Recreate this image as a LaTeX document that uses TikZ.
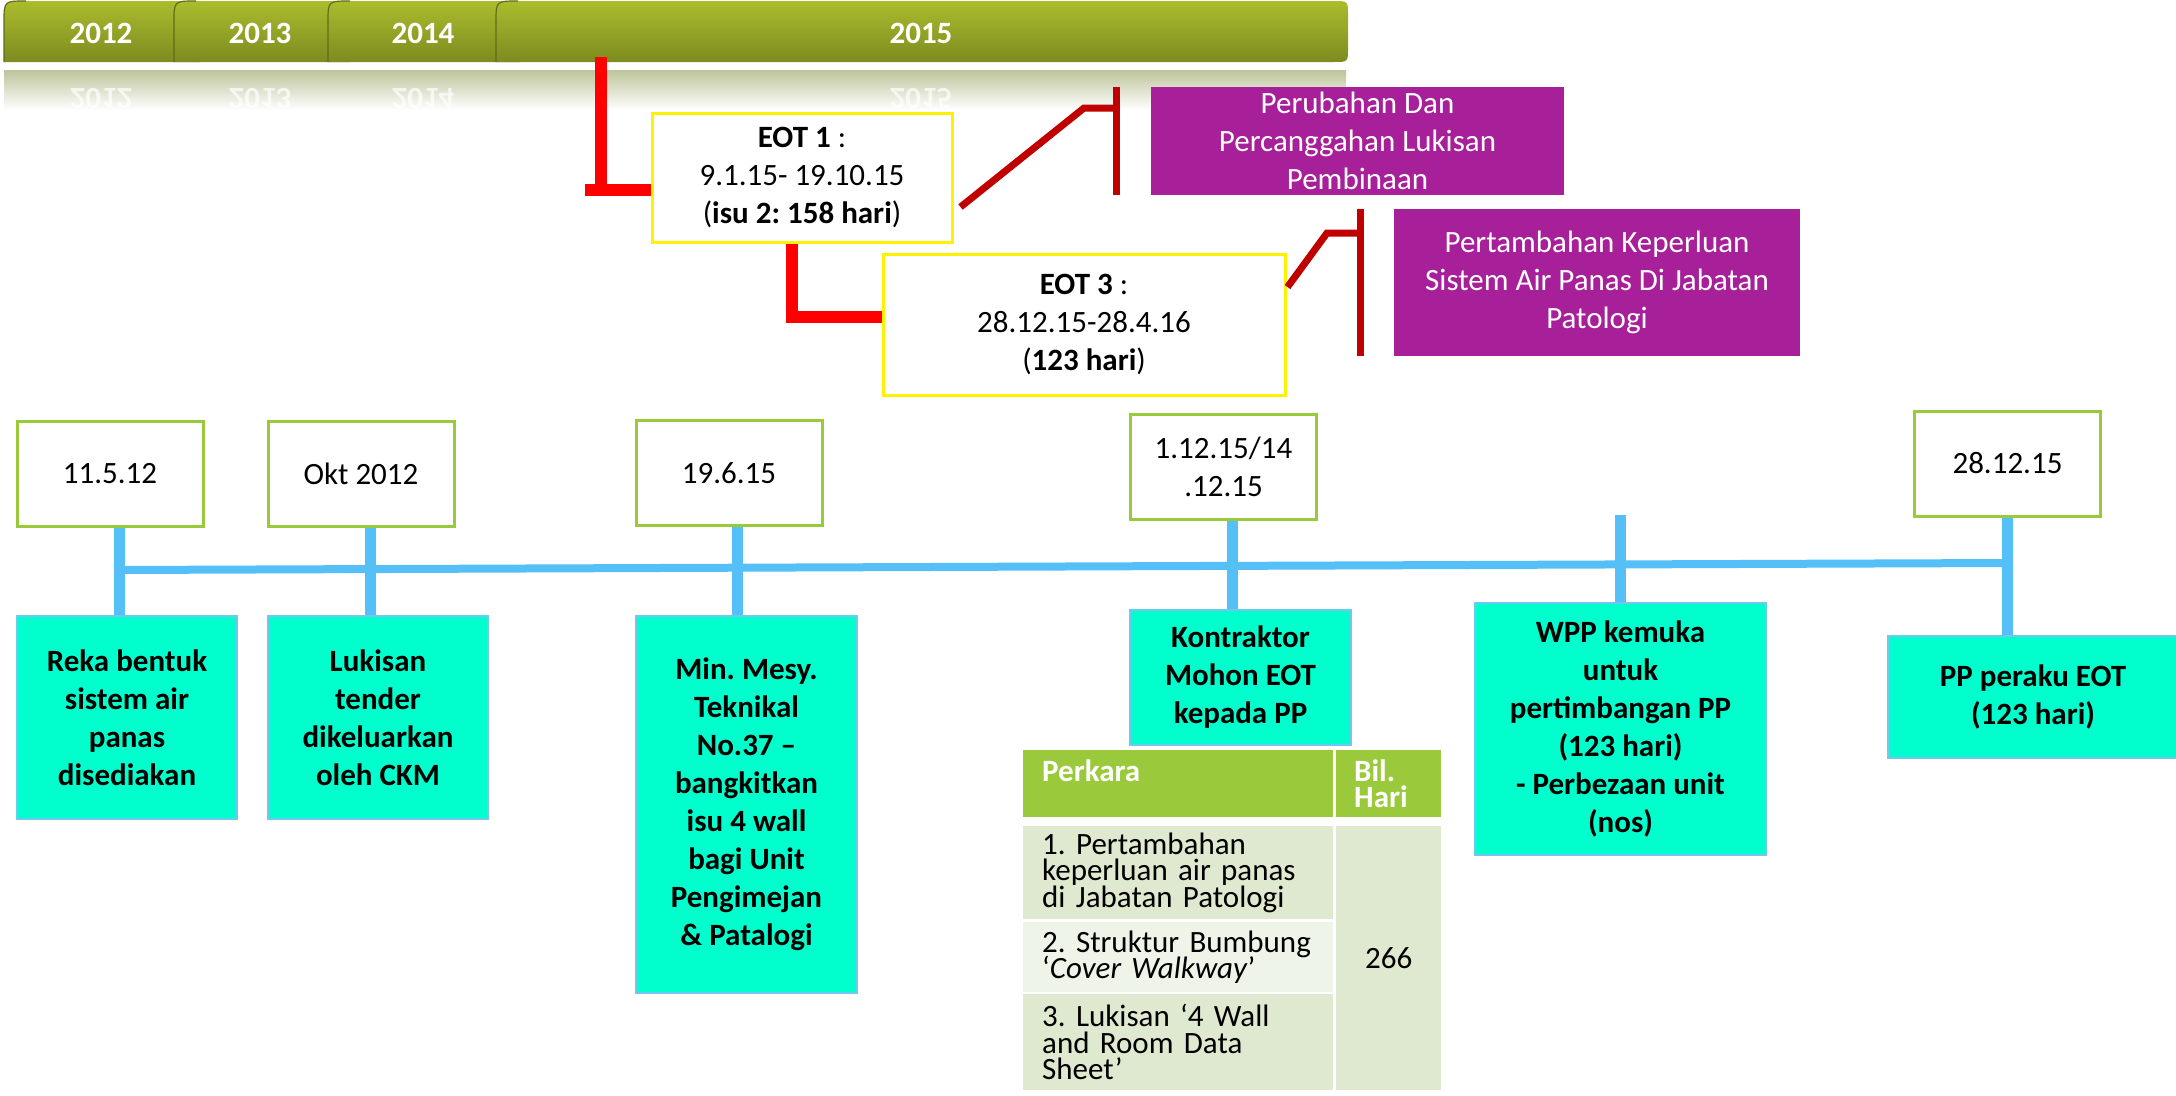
\documentclass[tikz,border=0pt]{standalone}
\usepackage{fontspec}
\setmainfont{Carlito}
\usetikzlibrary{calc}

\definecolor{tabtop}{RGB}{171,188,45}
\definecolor{tabbot}{RGB}{125,139,32}
\definecolor{tabedge}{RGB}{96,108,24}
\definecolor{reflgrey}{RGB}{190,196,156}
\definecolor{dategreen}{RGB}{154,202,60}
\definecolor{aqua}{RGB}{0,255,204}
\definecolor{aquaedge}{RGB}{110,200,240}
\definecolor{busblue}{RGB}{85,192,247}
\definecolor{eotred}{RGB}{255,0,0}
\definecolor{darkred}{RGB}{192,0,0}
\definecolor{plum}{RGB}{167,32,153}
\definecolor{tabhead}{RGB}{154,202,60}
\definecolor{rowdark}{RGB}{222,233,207}
\definecolor{rowlight}{RGB}{239,244,233}

\newcommand{\txtsize}{\fontsize{31}{38}\selectfont}
\newcommand{\tblsize}{\fontsize{31}{26.5}\selectfont\lineskiplimit=-50pt\hyphenpenalty=10000}

\begin{document}
\frenchspacing
\begin{tikzpicture}
    [x=1pt,y=-1pt,
     tabtxt/.style={text=white,font=\txtsize\bfseries},
     refltxt/.style={text=white,opacity=0.7,font=\txtsize\bfseries},
     datebox/.style={draw=dategreen,line width=3pt,fill=white,minimum width=186pt,minimum height=105pt,inner sep=0pt,align=center,font=\txtsize},
     tealbox/.style={draw=aquaedge,line width=1.5pt,fill=aqua,inner sep=0pt,align=center,font=\txtsize\bfseries},
     eotbox/.style={draw=yellow,line width=3pt,fill=white,inner sep=0pt,align=center,font=\txtsize},
     notebox/.style={fill=plum,text=white,inner sep=0pt,align=center,font=\txtsize},
     cell/.style={anchor=north west,inner xsep=19pt,inner ysep=0pt,align=left,font=\tblsize},
     busline/.style={draw=busblue,line width=11pt},
     redline/.style={draw=eotred,line width=12pt},
     darkline/.style={draw=darkred,line width=7pt}]
    \useasboundingbox (0,0) rectangle (2176,1095);

    \shade [top color=reflgrey,bottom color=white] (4,70) rectangle (1346,110);
    \foreach \xa/\xb in {4/200,174/350,328/520} {
      \shade [top color=tabtop,bottom color=tabbot] (\xa,62) -- (\xa,22) .. controls (\xa,1) .. ({\xa+22},1) -- (\xb,1) -- (\xb,62) -- cycle;
      \draw [tabedge,line width=1.2pt] (\xa,62) -- (\xa,22) .. controls (\xa,1) .. ({\xa+22},1);
    }
    \shade [top color=tabtop,bottom color=tabbot] (496,62) -- (496,22) .. controls (496,1) .. (518,1) -- (1334,1) .. controls (1348,1) .. (1348,15) -- (1348,48) .. controls (1348,62) .. (1334,62) -- cycle;
    \draw [tabedge,line width=1.2pt] (496,62) -- (496,22) .. controls (496,1) .. (518,1);

    \node (y2012) at (101,33) [tabtxt] {2012};
    \node (y2013) at (260,33) [tabtxt] {2013};
    \node (y2014) at (423,33) [tabtxt] {2014};
    \node (y2015) at (921,33) [tabtxt] {2015};
    \node (m2012) at (101,99) [refltxt] {\scalebox{1}[-1]{2012}};
    \node (m2013) at (260,99) [refltxt] {\scalebox{1}[-1]{2013}};
    \node (m2014) at (423,99) [refltxt] {\scalebox{1}[-1]{2014}};
    \node (m2015) at (921,99) [refltxt] {\scalebox{1}[-1]{2015}};

    \node (e1) at (802,177.5)  [eotbox,minimum width=300pt,minimum height=129pt] {\textbf{EOT 1} :\\9.1.15- 19.10.15\\(\textbf{isu 2: 158 hari})};
    \node (e3) at (1084,324.5) [eotbox,minimum width=402pt,minimum height=141pt] {\textbf{EOT 3} :\\28.12.15-28.4.16\\(\textbf{123 hari})};
    \node (p1) at (1357.5,141) [notebox,minimum width=413pt,minimum height=108pt] {Perubahan Dan\\Percanggahan Lukisan\\Pembinaan};
    \node (p2) at (1597,282.5) [notebox,minimum width=406pt,minimum height=147pt] {Pertambahan Keperluan\\Sistem Air Panas Di Jabatan\\Patologi};

    \coordinate (eot1top)  at (601,57);
    \coordinate (eot1foot) at (585,190);
    \coordinate (eot3foot) at (792,317);
    \draw [redline] (eot1top) -- (eot1top |- eot1foot);
    \draw [redline] (eot1foot) -- (eot1foot -| e1.west);
    \draw [redline] (eot3foot |- e1.south) -- (eot3foot) -- (eot3foot -| e3.west);

    \coordinate (knee1) at (1084,108);
    \coordinate (bar1) at ([xshift=-34pt]p1.west);
    \draw [darkline] ([xshift=7pt,yshift=-29.5pt]e1.east) -- (knee1) -- (knee1 -| bar1);
    \draw [darkline] ([xshift=-34pt]p1.north west) -- ([xshift=-34pt]p1.south west);
    \coordinate (knee2) at (1327,233);
    \coordinate (bar2) at ([xshift=-33pt]p2.west);
    \draw [darkline] ([xshift=1pt,yshift=37.5pt]e3.east) -- (knee2) -- (knee2 -| bar2);
    \draw [darkline] ([xshift=-33pt]p2.north west) -- ([xshift=-33pt]p2.south west);

    \node (d1) at (110,473.5)    [datebox] {11.5.12};
    \node (d2) at (361,473.5)    [datebox] {Okt 2012};
    \node (d3) at (729,473)      [datebox] {19.6.15};
    \node (d4) at (1223.5,467)   [datebox] {1.12.15/14\\.12.15};
    \node (d5) at (2007.5,463.5) [datebox] {28.12.15};

    \node (t1) at (127,717.5)    [tealbox,minimum width=220pt,minimum height=203pt] {Reka bentuk\\sistem air\\panas\\disediakan};
    \node (t2) at (378,717.5)    [tealbox,minimum width=220pt,minimum height=203pt] {Lukisan\\tender\\dikeluarkan\\oleh CKM};
    \node (t3) at (746.5,804.5)  [tealbox,minimum width=221pt,minimum height=377pt] {Min. Mesy.\\Teknikal\\No.37 –\\bangkitkan\\isu 4 wall\\bagi Unit\\Pengimejan\\\& Patalogi};
    \node (t4) at (1240.5,677.5) [tealbox,minimum width=221pt,minimum height=135pt] {Kontraktor\\Mohon EOT\\kepada PP};
    \node (t5) at (1620.5,729)   [tealbox,minimum width=291pt,minimum height=252pt] {WPP kemuka\\untuk\\pertimbangan PP\\(123 hari)\\- Perbezaan unit\\(nos)};
    \node (t6) at (2033,697)     [tealbox,minimum width=290pt,minimum height=122pt] {PP peraku EOT\\(123 hari)};

    \coordinate (b1) at (119,570);
    \coordinate (b6) at (2007,563);
    \draw [busline,line width=8pt] (b1) -- (b6);
    \foreach \d/\t/\x in {d1/t1/119,d2/t2/370,d3/t3/737,d4/t4/1232,d5/t6/2007}
      \draw [busline] (\x,0 |- \d.south) -- (\x,0 |- \t.north);
    \coordinate (v5top) at (1620,515);
    \draw [busline] (v5top) -- (v5top |- t5.north);

    \node (hd1) at (1023,750)  [cell,text width=272pt,minimum height=67pt,fill=tabhead,text=white,font=\tblsize\bfseries] {Perkara\\\vphantom{Hari}};
    \node (hd2) at (1336,750)  [cell,inner xsep=18pt,text width=69pt,minimum height=67pt,fill=tabhead,text=white,font=\tblsize\bfseries] {Bil.\\Hari};
    \node (row1) at (1023,826) [cell,text width=272pt,minimum height=93pt,fill=rowdark] {1. Pertambahan\\keperluan air panas\\di Jabatan Patologi};
    \node (row2) at (1023,922) [cell,text width=272pt,minimum height=70pt,fill=rowlight] {\mbox{2. Struktur Bumbung}\\‘\textit{Cover Walkway}’};
    \node (row3) at (1023,994) [cell,text width=272pt,minimum height=96pt,fill=rowdark] {3. Lukisan ‘4 Wall\\and Room Data\\Sheet’};
    \node (days) at (1336,826) [cell,align=center,inner xsep=0pt,minimum width=105pt,minimum height=264pt,fill=rowdark] {266};
\end{tikzpicture}
\end{document}
